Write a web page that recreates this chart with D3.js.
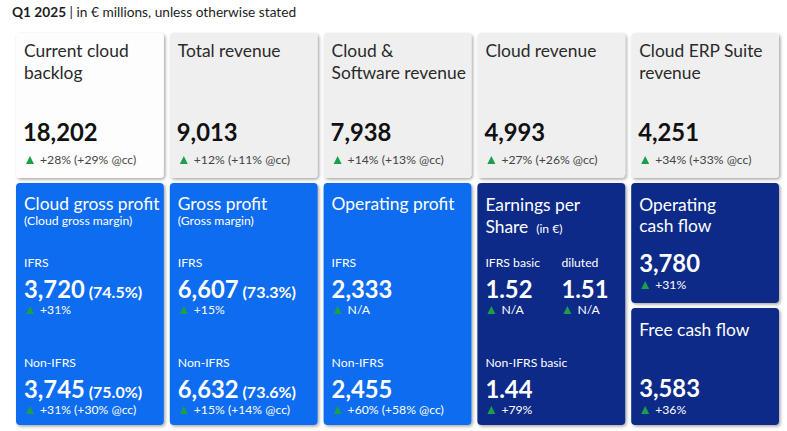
<!DOCTYPE html>
<html>
<head>
<meta charset="utf-8">
<script src="https://cdn.jsdelivr.net/npm/d3@7"></script>
<style>
  body { margin: 0; background: #fff; }
  text { font-family: Lato, "Noto Sans", sans-serif; }
</style>
</head>
<body>
<div id="board"></div>
<script>
// ---- data ----
let topTitles = [["Current cloud", "backlog"], ["Total revenue"], ["Cloud &", "Software revenue"], ["Cloud revenue"], ["Cloud ERP Suite", "revenue"]];
let topValues = ["18,202", "9,013", "7,938", "4,993", "4,251"];
let topGrowth = ["+28% (+29% @cc)", "+12% (+11% @cc)", "+14% (+13% @cc)", "+27% (+26% @cc)", "+34% (+33% @cc)"];

let profitTitles = ["Cloud gross profit", "Gross profit", "Operating profit"];
let profitSubtitles = ["(Cloud gross margin)", "(Gross margin)", ""];
let ifrsValues = ["3,720", "6,607", "2,333"];
let ifrsMargins = ["(74.5%)", "(73.3%)", ""];
let ifrsGrowth = ["+31%", "+15%", "N/A"];
let nonIfrsValues = ["3,745", "6,632", "2,455"];
let nonIfrsMargins = ["(75.0%)", "(73.6%)", ""];
let nonIfrsGrowth = ["+31% (+30% @cc)", "+15% (+14% @cc)", "+60% (+58% @cc)"];

let epsLabels = ["IFRS basic", "diluted"];
let epsValues = ["1.52", "1.51"];
let epsGrowth = ["N/A", "N/A"];
let epsNonLabel = "Non-IFRS basic";
let epsNonValue = "1.44";
let epsNonGrowth = "+79%";

let cashTitles = [["Operating", "cash flow"], ["Free cash flow"]];
let cashValues = ["3,780", "3,583"];
let cashGrowth = ["+31%", "+36%"];

// ---- layout ----
let svgWidth = 787, svgHeight = 431;
let blue = "#0a6cf0", navy = "#0a2a88", green = "#19a04b";
let titleSize = 17.4, smallSize = 12.2, valueSize = 23.8;

let svg = d3.select("#board").append("svg")
    .attr("width", svgWidth)
    .attr("height", svgHeight);

let defs = svg.append("defs");
let shadow = defs.append("filter").attr("id", "shadow")
    .attr("x", "-10%").attr("y", "-10%").attr("width", "125%").attr("height", "125%");
shadow.append("feDropShadow")
    .attr("dx", 1.5).attr("dy", 1.5).attr("stdDeviation", 1.5)
    .attr("flood-color", "#000").attr("flood-opacity", 0.35);

let x = d3.scaleBand().domain(d3.range(5)).range([16, 779]).paddingInner(0.039);
// row boundaries
let y = d3.scaleOrdinal().domain(["top", "bottom", "cash1", "cash2"]).range([33, 183, 183, 308]);
let h = d3.scaleOrdinal().domain(["top", "bottom", "cash1", "cash2"]).range([145, 242, 120, 117]);

// header
let header = svg.append("text").attr("x", 12).attr("y", 17).attr("font-size", 13.7).attr("fill", "#1d1d1d");
header.append("tspan").attr("font-weight", "bold").text("Q1 2025");
header.append("tspan").text(" | in € millions, unless otherwise stated");

function card(i, row, fill) {
    let g = svg.append("g").attr("transform", `translate(${x(i)}, ${y(row)})`);
    g.append("rect")
        .attr("width", x.bandwidth())
        .attr("height", h(row))
        .attr("rx", 4)
        .attr("fill", fill)
        .attr("filter", "url(#shadow)");
    return g;
}

function growth(g, gx, gy, txt, color) {
    g.append("path")
        .attr("d", `M${gx},${gy} L${gx + 8},${gy} L${gx + 4},${gy - 8} Z`)
        .attr("fill", green);
    g.append("text")
        .attr("x", gx + 14).attr("y", gy)
        .attr("font-size", smallSize)
        .attr("fill", color)
        .text(txt);
}

// ---- top row ----
topValues.forEach((v, i) => {
    let g = card(i, "top", i === 0 ? "#fdfdfd" : "#efefef");
    topTitles[i].forEach((t, k) => {
        g.append("text").attr("x", 8).attr("y", 24 + k * 22)
            .attr("font-size", titleSize).attr("fill", "#2a2a2a").text(t);
    });
    g.append("text").attr("x", 7).attr("y", 108)
        .attr("font-size", valueSize).attr("font-weight", "bold").attr("fill", "#111").text(v);
    growth(g, 10, 131, topGrowth[i], "#444");
});

// ---- profit cards ----
profitTitles.forEach((t, i) => {
    let g = card(i, "bottom", blue);
    g.append("text").attr("x", 8).attr("y", 27).attr("font-size", titleSize).attr("fill", "#fff").text(t);
    if (profitSubtitles[i]) {
        g.append("text").attr("x", 8).attr("y", 42).attr("font-size", smallSize).attr("fill", "#fff").text(profitSubtitles[i]);
    }
    let blocks = [
        {label: "IFRS", v: ifrsValues[i], m: ifrsMargins[i], gr: ifrsGrowth[i], base: 84},
        {label: "Non-IFRS", v: nonIfrsValues[i], m: nonIfrsMargins[i], gr: nonIfrsGrowth[i], base: 184}
    ];
    blocks.forEach(b => {
        g.append("text").attr("x", 8).attr("y", b.base).attr("font-size", smallSize).attr("fill", "#fff").text(b.label);
        let vt = g.append("text").attr("x", 8).attr("y", b.base + 31).attr("fill", "#fff").attr("font-weight", "bold");
        vt.append("tspan").attr("font-size", valueSize).text(b.v);
        if (b.m) vt.append("tspan").attr("font-size", 16).text(" " + b.m);
        growth(g, 10, b.base + 47, b.gr, "#fff");
    });
});

// ---- EPS card ----
let eps = card(3, "bottom", navy);
eps.append("text").attr("x", 8).attr("y", 28).attr("font-size", titleSize).attr("fill", "#fff").text("Earnings per");
let shareLine = eps.append("text").attr("x", 8).attr("y", 50).attr("fill", "#fff");
shareLine.append("tspan").attr("font-size", titleSize).text("Share");
shareLine.append("tspan").attr("font-size", smallSize).attr("dx", 8).text("(in €)");
let epsX = d3.scaleOrdinal().domain(epsLabels).range([8, 84]);
epsLabels.forEach((l, k) => {
    eps.append("text").attr("x", epsX(l)).attr("y", 84).attr("font-size", smallSize).attr("fill", "#fff").text(l);
    eps.append("text").attr("x", epsX(l)).attr("y", 115).attr("font-size", valueSize).attr("font-weight", "bold").attr("fill", "#fff").text(epsValues[k]);
    growth(eps, epsX(l) + 2, 131, epsGrowth[k], "#fff");
});
eps.append("text").attr("x", 8).attr("y", 184).attr("font-size", smallSize).attr("fill", "#fff").text(epsNonLabel);
eps.append("text").attr("x", 8).attr("y", 215).attr("font-size", valueSize).attr("font-weight", "bold").attr("fill", "#fff").text(epsNonValue);
growth(eps, 10, 231, epsNonGrowth, "#fff");

// ---- cash flow cards ----
let cashRows = ["cash1", "cash2"];
let cashValueY = [89, 89];
cashTitles.forEach((t, k) => {
    let g = card(4, cashRows[k], navy);
    t.forEach((line, j) => {
        g.append("text").attr("x", 8).attr("y", 28 + j * 21).attr("font-size", titleSize).attr("fill", "#fff").text(line);
    });
    g.append("text").attr("x", 8).attr("y", cashValueY[k]).attr("font-size", valueSize).attr("font-weight", "bold").attr("fill", "#fff").text(cashValues[k]);
    growth(g, 10, cashValueY[k] + 17, cashGrowth[k], "#fff");
});
</script>
</body>
</html>
